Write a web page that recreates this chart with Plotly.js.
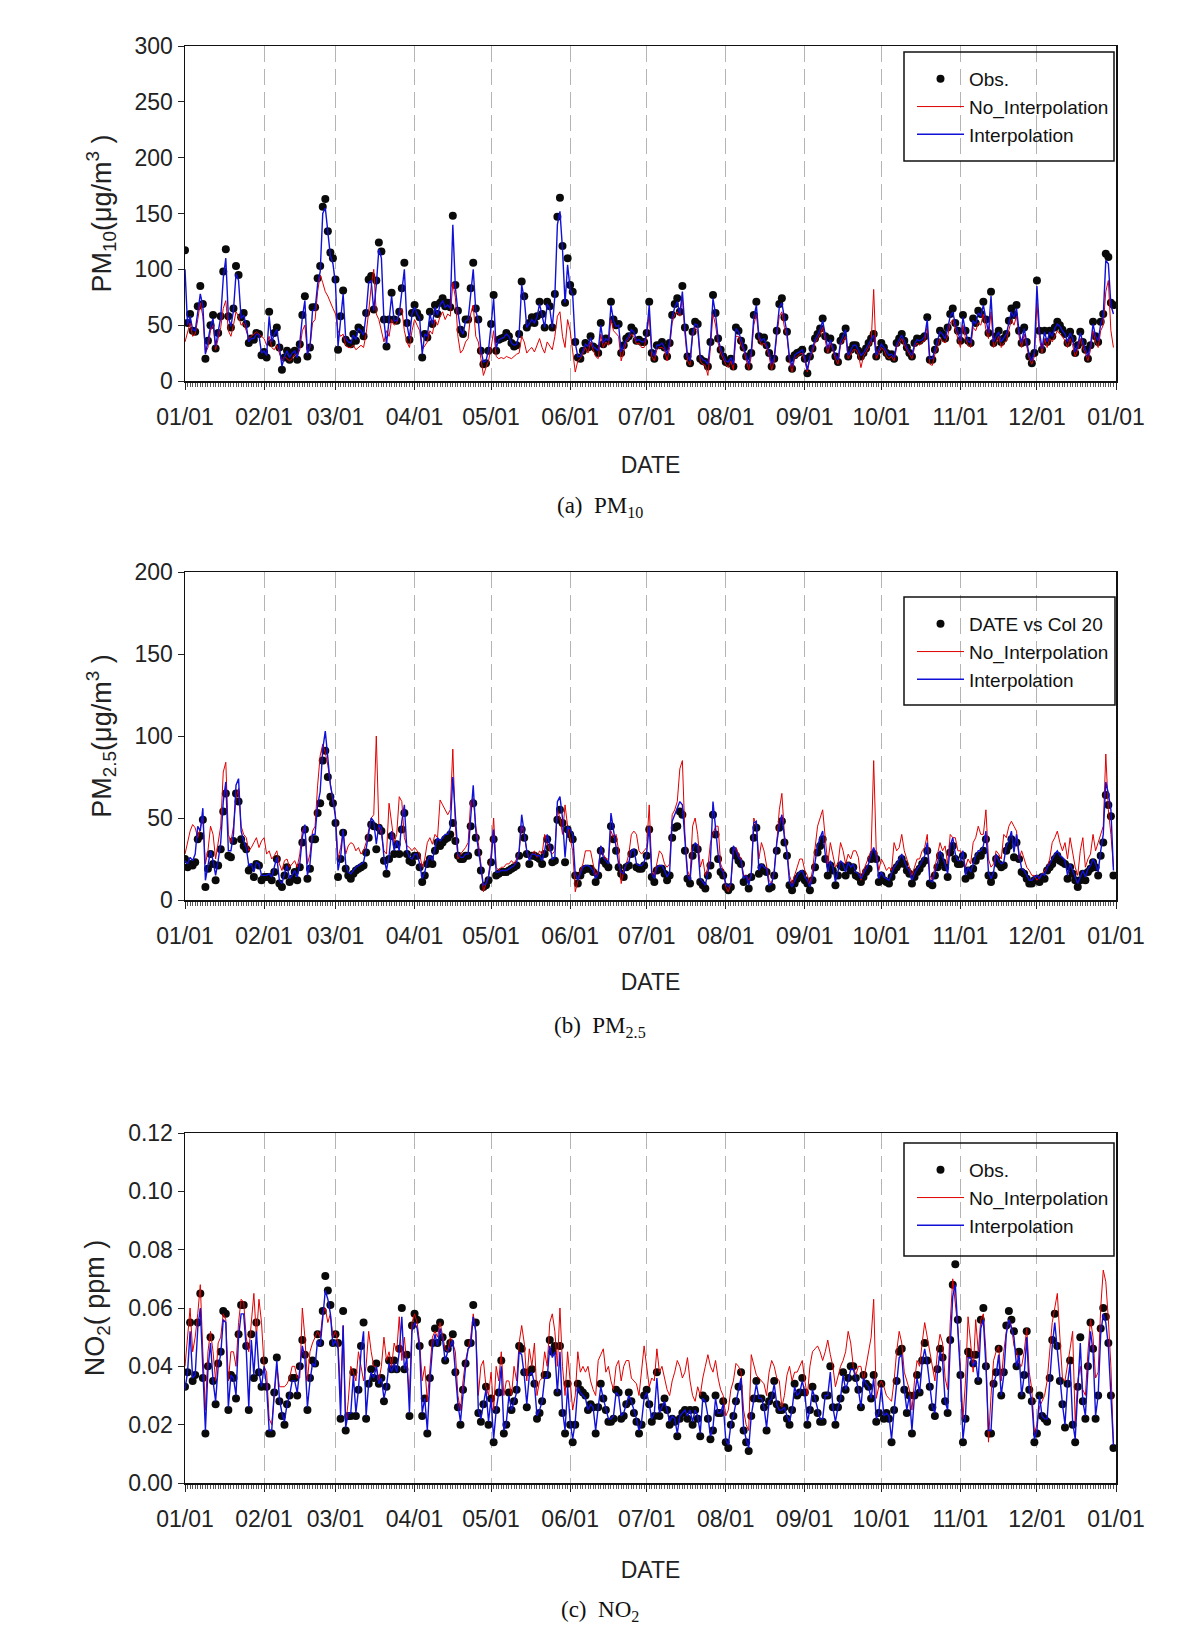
<!DOCTYPE html>
<html><head><meta charset="utf-8">
<script src="https://cdn.plot.ly/plotly-3.0.1.min.js"></script>
<style>html,body{margin:0;padding:0;background:#fff}</style>
</head><body><div id="chart" style="width:1200px;height:1634px"></div>
<script>
// ---------- DATA (daily values, Jan 1 .. Dec 31; one line per month) ----------
const yearStart = '2013-01-01';
const yearEnd = '2014-01-01';
const monthTickFormat = '%m/%d';

const pm10Obs = [
117,52,60,45,44,67,85,69,20,36,50,59,29,43,58,98,118,58,48,65,103,95,57,61,51,34,38,37,43,42,23,
26,21,62,34,43,48,30,10,21,27,19,25,27,19,33,59,76,22,30,66,66,92,103,156,163,134,115,110,
91,28,58,81,37,34,33,42,36,48,46,40,61,91,94,64,90,124,116,55,31,55,79,55,54,62,83,106,52,37,61,
68,61,57,21,42,39,62,51,68,60,70,74,67,70,66,148,86,63,46,42,55,55,83,106,65,55,27,15,16,27,
51,77,27,37,38,39,43,40,34,31,32,42,89,76,48,52,57,52,58,71,60,48,71,67,48,78,147,164,121,70,110,
86,80,35,21,20,27,34,30,40,31,29,25,52,33,38,36,71,55,50,51,25,32,38,40,48,45,36,37,35,35,
43,71,25,20,32,32,35,30,22,34,59,69,74,62,85,48,22,16,44,53,51,20,18,17,13,35,77,61,38,28,22,
17,16,20,13,48,45,36,30,22,13,25,59,71,40,36,39,32,25,13,20,45,69,74,57,44,20,11,23,25,26,28,
20,7,22,29,38,42,47,56,40,28,38,30,22,17,36,40,47,22,28,32,32,27,22,25,29,34,38,42,22,28,
34,30,25,22,24,20,34,38,42,36,30,25,22,34,38,36,38,40,57,19,19,28,35,45,42,38,48,60,65,52,45,
36,59,45,36,34,56,52,63,60,71,55,43,80,34,40,45,35,38,42,54,65,59,68,45,34,48,35,22,16,25,
90,45,28,45,35,45,40,48,53,50,46,42,34,44,38,25,32,44,35,28,20,32,53,40,35,53,60,114,111,70,68];

const pm10Interp = [
100,50,58,46,45,64,78,67,24,36,49,56,31,44,57,92,110,57,49,63,96,90,56,59,50,35,38,38,42,41,25,
27,23,58,35,42,46,31,13,22,27,21,25,27,21,34,57,72,24,31,63,64,87,98,150,155,130,112,105,
87,31,57,78,38,35,34,41,37,47,45,41,60,88,90,63,86,118,110,54,33,55,76,54,54,60,80,100,51,38,60,
66,60,56,24,42,40,60,51,66,59,68,72,66,68,65,140,84,62,46,42,54,55,80,100,63,54,28,17,18,28,
50,74,29,37,38,39,42,40,34,32,33,42,86,74,48,51,55,52,57,69,59,48,69,65,48,76,140,152,118,70,104,
82,77,34,22,22,27,33,31,39,31,29,27,50,34,38,36,68,54,49,50,26,32,37,40,46,44,36,37,35,35,
42,68,27,22,32,32,34,30,24,34,57,66,71,60,80,47,23,18,43,51,50,22,19,18,15,35,74,60,38,29,23,
18,17,21,15,47,44,36,30,23,15,26,57,68,40,36,38,32,26,15,21,44,66,70,55,43,21,13,23,25,26,28,
21,10,22,29,37,41,46,54,40,29,37,30,23,19,35,40,46,23,28,32,32,28,23,25,29,33,37,41,23,28,
33,30,26,23,24,21,33,37,41,36,30,26,23,33,37,36,37,40,55,20,20,28,35,44,42,38,47,58,62,51,44,
36,57,44,36,34,54,51,61,58,68,54,43,76,35,40,44,35,38,42,52,62,57,65,44,34,47,35,23,18,26,
85,44,29,44,35,44,40,47,51,49,45,42,35,43,38,26,32,43,35,29,22,32,51,40,36,51,58,108,105,68,60];

const pm10NoInterp = [
35,45,52,40,42,55,70,58,25,30,45,50,28,38,48,65,72,45,40,50,62,58,50,52,45,38,40,42,44,42,40,
38,32,40,30,28,32,25,18,22,20,18,20,24,22,28,45,50,25,30,52,55,80,95,88,80,76,70,65,
60,45,40,42,32,30,30,32,28,30,32,30,42,62,85,100,60,55,45,35,45,40,55,50,52,60,65,45,35,30,45,
55,50,45,28,32,35,45,42,55,50,58,62,55,60,58,88,75,40,25,28,35,38,60,68,40,35,20,5,12,18,
30,45,22,20,21,20,22,21,20,22,24,25,40,35,25,28,30,26,32,38,30,25,35,32,28,40,58,62,40,30,55,
45,25,8,18,20,25,30,25,35,28,22,20,42,30,35,32,55,45,42,40,18,28,35,38,42,40,33,34,30,30,
40,60,22,18,28,30,30,28,18,30,52,60,62,58,75,42,18,14,40,48,45,18,15,14,5,30,60,50,34,25,20,
15,12,18,10,40,40,32,28,20,10,22,50,60,38,32,34,30,22,10,18,40,58,62,48,40,18,8,20,22,24,25,
18,8,20,26,34,38,42,48,36,25,34,28,20,15,32,36,40,20,24,28,28,24,12,22,26,30,34,82,20,25,
30,28,22,20,22,18,30,34,38,32,28,24,20,30,34,32,35,36,50,15,14,24,30,38,36,34,40,52,55,45,38,
30,50,38,32,30,48,45,52,50,60,46,38,62,30,35,40,30,34,36,45,55,50,58,40,30,42,30,20,15,22,
70,38,25,38,30,38,35,40,45,42,40,36,30,38,32,22,28,38,30,25,18,28,45,35,30,45,50,80,90,45,30];

const pm25Obs = [
25,20,22,21,23,37,39,49,8,19,28,22,12,21,31,54,65,27,26,36,65,60,37,33,31,18,20,14,22,21,12,
14,14,14,12,17,25,10,8,15,20,11,13,17,12,20,35,43,13,19,37,37,53,59,85,91,75,63,59,
47,14,25,41,19,15,13,16,18,19,20,21,29,38,46,45,31,44,42,24,16,25,39,28,34,28,43,53,28,24,23,
27,27,20,11,15,22,25,22,30,35,33,35,37,38,40,47,36,27,25,25,27,27,45,59,38,29,18,8,9,12,
23,37,15,16,17,17,17,18,19,20,21,27,43,38,28,22,27,27,26,25,22,28,37,32,23,24,49,55,47,23,43,
40,37,15,10,15,18,19,19,19,17,11,15,30,24,22,20,45,37,30,20,16,14,20,21,28,29,20,19,19,21,
27,43,14,11,18,19,19,16,12,15,38,44,45,54,52,30,13,10,27,32,31,11,9,7,15,21,52,40,25,17,15,
8,6,8,30,27,24,22,11,13,7,14,38,44,16,20,18,17,7,8,15,30,44,48,35,27,9,6,10,13,15,16,
12,10,6,12,20,29,33,37,25,15,21,18,9,15,21,20,15,21,18,20,15,14,11,14,17,19,25,28,25,11,
15,12,11,10,14,18,20,22,25,22,18,16,10,14,17,19,22,24,30,10,9,15,20,27,23,20,14,29,33,25,22,
22,27,13,18,15,19,24,27,27,30,37,15,11,15,25,22,20,21,30,33,37,26,35,25,17,16,13,10,10,12,
13,11,14,13,18,20,22,25,27,24,23,22,13,20,16,12,8,12,16,12,17,19,23,20,15,27,35,64,58,51,15];

const pm25Interp = [
24,22,26,24,28,45,42,56,12,22,30,24,15,24,35,60,72,30,30,40,70,74,42,36,32,21,22,17,23,22,15,
15,15,16,14,20,26,12,10,16,21,13,15,18,14,22,38,46,15,22,40,40,58,66,92,103,84,70,62,
50,18,26,43,22,17,16,18,20,21,22,23,31,40,50,48,34,46,44,26,18,27,42,30,36,30,48,58,30,26,25,
28,28,22,13,17,24,27,24,32,38,36,38,40,40,44,75,50,28,26,26,28,28,50,70,42,30,20,9,10,14,
24,43,17,17,18,18,18,19,20,21,23,30,52,42,30,24,28,28,27,27,24,30,40,34,25,26,60,63,50,26,45,
43,40,16,12,16,20,21,21,20,18,13,16,33,26,24,22,53,42,33,22,17,16,22,23,30,31,22,21,21,23,
29,45,16,13,20,21,21,18,14,17,48,52,55,60,58,34,15,12,30,35,33,13,11,9,17,24,60,45,28,19,17,
10,8,10,33,30,26,24,13,15,9,16,47,48,18,22,20,19,9,10,17,35,45,52,38,29,11,8,12,15,17,18,
14,12,8,14,23,33,38,42,28,17,24,20,11,17,24,22,17,23,20,22,17,16,13,16,19,22,28,32,27,13,
17,14,13,12,16,20,22,25,28,24,20,18,12,16,19,21,24,27,35,12,11,17,22,30,26,22,16,33,38,28,24,
24,30,15,20,17,22,27,30,30,33,42,17,13,17,28,24,22,23,33,36,42,29,40,28,19,18,15,12,12,14,
15,13,16,15,20,22,25,28,30,27,26,24,15,22,18,14,10,14,18,14,19,21,25,22,17,30,40,72,65,55,18];

const pm25NoInterp = [
28,35,42,46,44,38,45,50,22,30,45,40,25,35,45,78,84,40,35,45,62,68,45,40,38,30,32,35,38,32,36,
38,28,30,25,27,30,22,18,24,25,20,22,24,20,28,42,45,22,28,42,45,70,88,95,90,82,70,60,
52,25,32,42,28,33,35,34,30,32,28,30,35,42,50,52,100,45,40,30,28,59,45,35,40,63,60,38,33,32,30,
32,30,28,20,25,35,38,34,40,38,61,58,55,52,55,92,45,25,28,30,32,35,60,62,45,35,22,5,10,15,
28,50,20,18,20,20,22,22,24,22,25,30,45,40,30,25,28,30,26,30,28,40,35,30,28,30,55,50,40,58,45,
38,30,5,12,18,22,30,30,30,22,15,18,33,28,25,25,42,38,40,30,10,18,22,28,40,42,40,30,28,30,
32,58,18,15,22,30,28,22,20,22,52,55,60,80,85,40,18,14,45,50,40,20,25,15,20,35,40,45,45,22,18,
8,5,10,30,32,28,25,15,15,12,15,50,45,25,35,30,22,12,10,18,35,55,65,40,30,15,10,15,20,25,25,
18,15,10,18,30,45,50,55,38,22,35,28,20,22,35,30,22,28,25,30,30,26,12,18,22,27,30,85,30,18,
25,22,18,20,18,35,30,32,40,30,25,20,15,20,25,25,30,32,40,15,12,20,28,35,30,33,22,40,38,38,30,
30,28,20,25,22,35,38,45,40,40,55,25,20,22,30,28,25,40,38,45,48,45,42,25,30,25,20,18,15,15,
12,14,16,18,20,25,35,38,42,35,30,35,25,38,28,20,15,30,38,20,25,28,40,30,35,40,45,89,55,40,20];

const no2Obs = [
.033,.038,.055,.035,.037,.055,.065,.036,.017,.040,.050,.035,.027,.041,.045,.059,.058,.025,.037,.036,.029,.051,.061,.061,.047,.025,.051,.036,.055,.038,.033,
.042,.033,.017,.017,.031,.043,.028,.023,.020,.027,.030,.036,.036,.030,.040,.049,.044,.025,.036,.042,.041,.051,.048,.059,.071,.066,.061,.048,
.051,.048,.022,.059,.018,.023,.023,.038,.023,.032,.047,.055,.022,.034,.039,.036,.041,.034,.036,.028,.033,.042,.039,.042,.039,.046,.060,.039,.044,.023,.054,
.058,.056,.047,.023,.029,.017,.036,.048,.053,.048,.055,.050,.042,.046,.048,.051,.038,.026,.020,.032,.041,.048,.048,.061,.055,.024,.021,.027,.033,.020,
.029,.014,.025,.031,.042,.017,.020,.031,.025,.028,.032,.047,.046,.038,.026,.038,.039,.034,.022,.024,.028,.037,.037,.049,.045,.047,.031,.047,.024,.017,.034,
.020,.014,.020,.034,.032,.031,.030,.025,.027,.026,.017,.026,.034,.029,.025,.021,.021,.022,.032,.031,.022,.023,.027,.031,.028,.024,.021,.017,.020,.030,
.032,.027,.021,.023,.038,.023,.026,.029,.025,.020,.022,.021,.016,.022,.024,.025,.022,.025,.020,.025,.022,.016,.030,.029,.022,.015,.018,.030,.024,.024,.028,
.014,.012,.020,.023,.028,.033,.038,.018,.014,.011,.023,.029,.035,.029,.029,.026,.018,.028,.030,.035,.027,.025,.025,.026,.022,.020,.025,.034,.030,.031,.036,
.031,.020,.025,.033,.029,.024,.021,.021,.030,.030,.040,.026,.020,.026,.029,.038,.032,.036,.040,.040,.036,.032,.026,.037,.034,.033,.029,.037,.021,.024,
.034,.022,.024,.022,.014,.025,.035,.045,.046,.032,.024,.030,.017,.030,.037,.031,.042,.048,.042,.033,.026,.023,.039,.046,.043,.028,.024,.049,.068,.075,.056,
.037,.014,.022,.045,.044,.041,.044,.035,.056,.060,.040,.017,.017,.034,.038,.046,.030,.038,.054,.059,.056,.052,.040,.045,.030,.037,.052,.032,.028,.014,
.017,.030,.023,.022,.021,.036,.049,.058,.047,.035,.027,.019,.034,.042,.020,.014,.033,.050,.028,.022,.040,.055,.046,.022,.030,.053,.060,.057,.048,.030,.012];

const no2Interp = [
.032,.038,.052,.036,.037,.053,.060,.037,.018,.039,.048,.035,.028,.040,.044,.056,.055,.026,.037,.036,.030,.050,.058,.058,.046,.026,.049,.037,.052,.038,.033,
.040,.033,.018,.018,.031,.042,.029,.024,.021,.027,.030,.035,.035,.031,.039,.047,.043,.026,.035,.041,.040,.049,.047,.056,.066,.063,.058,.047,
.049,.046,.023,.054,.019,.024,.024,.037,.024,.032,.045,.052,.023,.034,.038,.036,.040,.034,.036,.029,.033,.041,.038,.041,.038,.045,.057,.039,.043,.024,.052,
.055,.053,.046,.024,.029,.018,.035,.046,.051,.047,.053,.049,.042,.045,.047,.049,.038,.027,.021,.032,.040,.046,.047,.057,.052,.025,.022,.027,.032,.021,
.029,.015,.025,.031,.040,.018,.021,.030,.025,.028,.031,.045,.044,.037,.027,.037,.038,.034,.023,.025,.028,.036,.036,.047,.043,.045,.031,.045,.025,.018,.033,
.021,.015,.021,.033,.031,.030,.029,.025,.027,.026,.018,.026,.033,.029,.025,.022,.022,.023,.031,.030,.023,.024,.027,.030,.028,.025,.022,.018,.021,.029,
.031,.027,.022,.024,.036,.024,.026,.028,.025,.021,.023,.022,.017,.023,.024,.025,.023,.025,.021,.025,.023,.017,.029,.028,.023,.016,.019,.029,.024,.024,.027,
.015,.013,.020,.023,.028,.032,.036,.019,.015,.012,.023,.029,.034,.029,.029,.026,.019,.028,.029,.034,.027,.025,.025,.026,.023,.021,.025,.033,.030,.031,.035,
.031,.021,.025,.032,.029,.025,.022,.022,.030,.030,.038,.026,.021,.026,.029,.037,.032,.035,.039,.039,.036,.032,.026,.036,.034,.033,.029,.036,.022,.024,
.033,.023,.024,.023,.015,.025,.034,.043,.044,.032,.025,.030,.018,.030,.036,.031,.041,.046,.041,.033,.026,.024,.038,.045,.042,.028,.025,.047,.064,.068,.054,
.037,.015,.023,.043,.043,.040,.042,.035,.053,.056,.040,.018,.018,.034,.037,.044,.030,.037,.051,.056,.053,.050,.040,.044,.030,.037,.050,.032,.028,.015,
.018,.030,.023,.022,.022,.035,.047,.055,.046,.035,.027,.020,.034,.041,.021,.015,.033,.048,.028,.023,.039,.052,.045,.023,.030,.051,.058,.055,.047,.030,.013];

const no2NoInterp = [
.040,.050,.060,.045,.050,.058,.068,.045,.025,.045,.052,.045,.035,.048,.050,.058,.056,.035,.045,.045,.040,.055,.063,.062,.050,.045,.055,.065,.050,.063,.055,
.040,.038,.022,.020,.030,.040,.033,.033,.033,.034,.036,.040,.040,.036,.036,.060,.050,.035,.045,.048,.050,.052,.050,.058,.060,.055,.058,.050,
.052,.048,.030,.054,.020,.028,.040,.038,.035,.045,.040,.035,.040,.052,.045,.040,.040,.035,.040,.050,.042,.045,.040,.048,.045,.057,.042,.050,.040,.030,.055,
.058,.055,.048,.035,.040,.028,.040,.050,.052,.050,.055,.050,.046,.045,.050,.048,.045,.030,.025,.035,.042,.046,.050,.058,.052,.030,.040,.042,.033,.030,
.038,.025,.040,.035,.045,.030,.035,.035,.030,.040,.035,.048,.054,.048,.035,.046,.040,.048,.030,.035,.036,.045,.040,.055,.058,.052,.040,.060,.040,.030,.045,
.035,.025,.030,.045,.038,.040,.038,.040,.035,.032,.030,.042,.044,.046,.038,.040,.035,.032,.040,.042,.035,.040,.042,.042,.036,.035,.034,.030,.038,.047,
.040,.033,.036,.035,.046,.038,.040,.036,.032,.030,.035,.038,.042,.040,.036,.038,.043,.035,.030,.028,.033,.030,.036,.040,.044,.040,.038,.042,.036,.032,.030,
.023,.025,.032,.035,.041,.040,.038,.025,.020,.018,.044,.040,.037,.036,.035,.034,.030,.038,.042,.040,.036,.035,.026,.030,.037,.040,.035,.038,.038,.040,.042,
.035,.030,.040,.045,.046,.047,.045,.042,.045,.049,.044,.040,.033,.037,.040,.042,.045,.052,.048,.040,.037,.040,.040,.035,.040,.045,.050,.063,.029,.033,
.035,.033,.030,.029,.028,.035,.045,.052,.048,.038,.035,.032,.025,.035,.042,.040,.048,.055,.050,.045,.040,.035,.045,.051,.048,.036,.032,.055,.070,.062,.053,
.040,.022,.035,.057,.048,.038,.056,.045,.056,.058,.045,.014,.030,.042,.045,.047,.035,.045,.052,.056,.054,.047,.045,.041,.040,.045,.053,.038,.032,.017,
.020,.026,.028,.030,.035,.045,.055,.060,.065,.050,.036,.035,.040,.046,.052,.021,.035,.040,.032,.030,.045,.056,.050,.036,.038,.060,.073,.069,.056,.040,.013];

const panelYTitles = ['PM<sub>10</sub>(μg/m<sup>3</sup> )', 'PM<sub>2.5</sub>(μg/m<sup>3</sup> )', 'NO<sub>2</sub>( ppm )'];
const panelCaptions = ['(a)  PM<sub>10</sub>', '(b)  PM<sub>2.5</sub>', '(c)  NO<sub>2</sub>'];
const obsNames = ['Obs.', 'DATE vs Col 20', 'Obs.'];
const modelNames = ['No_Interpolation', 'Interpolation'];
const xTitle = 'DATE';

// ---------- BUILD ----------
const dayMs = 86400000;
const t0 = Date.parse(yearStart + 'T00:00:00Z');
const dates = pm10Obs.map((_, i) => new Date(t0 + i * dayMs).toISOString().slice(0, 10));

const sans = "'Liberation Sans', Arial, sans-serif";
const serif = "'Liberation Serif', 'DejaVu Serif', serif";

const W = 1200, H = 1634;
const px = v => v / W;
const py = v => 1 - v / H;

// panel geometry in page pixels
const panels = [
  {top: 46, bottom: 381, yr: [0, 300], dt: 50, fmt: '', obs: pm10Obs, red: pm10NoInterp, blue: pm10Interp, cap: 507, leg: [904, 52, 1114, 161], legTop: 60, ts: 28},
  {top: 572, bottom: 900, yr: [0, 200], dt: 50, fmt: '', obs: pm25Obs, red: pm25NoInterp, blue: pm25Interp, cap: 1027, leg: [904, 597, 1115, 705], legTop: 605, ts: 26},
  {top: 1133, bottom: 1483, yr: [0, 0.12], dt: 0.02, fmt: '.2f', obs: no2Obs, red: no2NoInterp, blue: no2Interp, cap: 1611, leg: [904, 1143, 1114, 1256], legTop: 1151, ts: 31}
];
const xLeft = 185, xRight = 1116;

const data = [];
const layout = {
  width: W, height: H,
  margin: {l: 0, r: 0, t: 0, b: 0},
  paper_bgcolor: '#fff', plot_bgcolor: '#fff',
  showlegend: true,
  shapes: [], annotations: []
};

panels.forEach((p, k) => {
  const n = k === 0 ? '' : String(k + 1);
  const xa = 'x' + n, ya = 'y' + n;
  const legName = 'legend' + n;
  data.push({
    type: 'scatter', mode: 'markers', x: dates, y: p.obs, name: obsNames[k],
    xaxis: xa, yaxis: ya, legend: legName,
    marker: {color: '#0a0a0a', size: 8}
  });
  data.push({
    type: 'scatter', mode: 'lines', x: dates, y: p.red, name: modelNames[0],
    xaxis: xa, yaxis: ya, legend: legName,
    line: {color: '#e00000', width: 1}
  });
  data.push({
    type: 'scatter', mode: 'lines', x: dates, y: p.blue, name: modelNames[1],
    xaxis: xa, yaxis: ya, legend: legName,
    line: {color: '#1010d8', width: 1.4}
  });

  layout['xaxis' + n] = {
    domain: [px(xLeft), px(xRight)], anchor: ya,
    type: 'date', range: [yearStart, yearEnd],
    tick0: yearStart, dtick: 'M1', tickformat: monthTickFormat,
    ticks: 'outside', ticklen: 7, tickwidth: 1, tickcolor: '#222',
    ticklabelstandoff: 8,
    tickfont: {family: sans, size: 23, color: '#222'},
    showline: true, linecolor: '#111', linewidth: 1.5, mirror: true,
    showgrid: true, gridcolor: '#b4b4b4', gridwidth: 1, griddash: '16px,7px',
    zeroline: false,
    minor: {dtick: dayMs, ticks: 'outside', ticklen: 4, tickcolor: '#555', tickwidth: 1, showgrid: false},
    title: {text: xTitle, font: {family: sans, size: 23, color: '#222'}, standoff: p.ts}
  };
  layout['yaxis' + n] = {
    domain: [py(p.bottom), py(p.top)], anchor: xa,
    range: p.yr, dtick: p.dt, tick0: 0, tickformat: p.fmt,
    ticks: 'outside', ticklen: 6, tickcolor: '#222',
    tickfont: {family: sans, size: 23, color: '#222'},
    showline: true, linecolor: '#111', linewidth: 1.5, mirror: true,
    showgrid: false, zeroline: false,
    title: {text: panelYTitles[k], font: {family: sans, size: 27, color: '#222'}, standoff: 15}
  };
  layout[legName] = {
    x: px(p.leg[0] + 8), y: py(p.legTop), xanchor: 'left', yanchor: 'top',
    bgcolor: 'rgba(0,0,0,0)', borderwidth: 0,
    itemwidth: 47,
    font: {family: sans, size: 19, color: '#111'},
    tracegroupgap: 0
  };
  layout.shapes.push({
    type: 'rect', xref: 'paper', yref: 'paper',
    x0: px(p.leg[0]), x1: px(p.leg[2]), y0: py(p.leg[3]), y1: py(p.leg[1]),
    line: {color: '#111', width: 1.5}, fillcolor: 'rgba(0,0,0,0)'
  });
  layout.annotations.push({
    xref: 'paper', yref: 'paper', x: 0.5, y: py(p.cap),
    xanchor: 'center', yanchor: 'middle', showarrow: false,
    text: panelCaptions[k], font: {family: serif, size: 23, color: '#111'}
  });
});

Plotly.newPlot('chart', data, layout, {displayModeBar: false, staticPlot: true});
</script>
</body></html>
